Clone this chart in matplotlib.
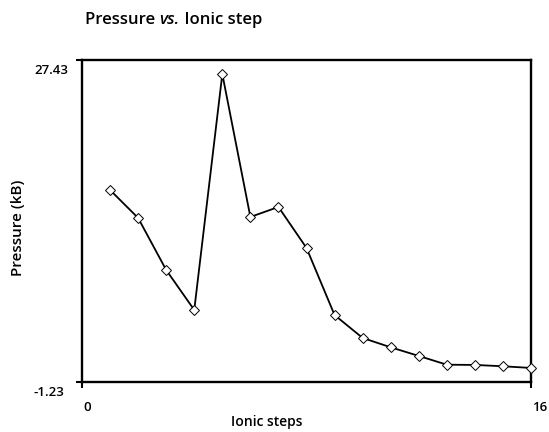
import numpy as np
import matplotlib.pyplot as plt

plt.rcParams['font.family'] = ['Open Sans', 'DejaVu Sans']

steps = [1, 2, 3, 4, 5, 6, 7, 8, 9, 10, 11, 12, 13, 14, 15, 16]
pressure = [15.86, 13.37, 8.74, 5.18, 26.18, 13.46, 14.35, 10.70,
            4.73, 2.69, 1.86, 1.09, 0.31, 0.29, 0.17, 0.02]

x_lim = [0, 16]
y_lim = [min(pressure) - 1.25, max(pressure) + 1.25]

W, H = 549, 432
fig = plt.figure(figsize=(W / 100, H / 100), dpi=100)
ax = fig.add_axes([82 / W, 1 - 382 / H, 449 / W, 322 / H])

ax.plot(steps, pressure, color='black', lw=1.3, marker='D', ms=5,
        mfc='white', mec='black', mew=0.7, clip_on=False, zorder=3)

ax.set_xlim(x_lim)
ax.set_ylim(y_lim)
ax.set_xticks(x_lim)
ax.set_yticks(y_lim)
ax.set_xticklabels([])
ax.set_yticklabels([])

for s in ax.spines.values():
    s.set_linewidth(1.7)
ax.tick_params(direction='out', length=4, width=1.5)

# end-of-axis value labels, placed beside the ticks
for v in x_lim:
    ax.annotate('%d' % v, xy=(v, 0), xycoords=('data', 'axes fraction'),
                xytext=(1.5, -19), textcoords='offset pixels',
                ha='left', va='top', fontsize=9.5, fontweight='semibold')
for v in y_lim:
    ax.annotate('%.2f' % v, xy=(0, v), xycoords=('axes fraction', 'data'),
                xytext=(-48, -4), textcoords='offset pixels',
                ha='left', va='top', fontsize=9.5, fontweight='semibold')

fig.text(267 / W, 1 - 426 / H, 'Ionic steps', fontsize=10,
         fontweight='semibold', ha='center', va='baseline')
fig.text(18 / W, 1 - 228 / H, 'Pressure (kB)', fontsize=11,
         fontweight='semibold', ha='center', va='center', rotation=90)

# title with italic "vs."
ty = 1 - 24 / H
t1 = fig.text(85 / W, ty, 'Pressure ', fontsize=12,
              fontweight='semibold', ha='left', va='baseline')
t2 = fig.text(0, ty, 'vs.', fontsize=12, fontweight='semibold',
              style='italic', ha='left', va='baseline')
t3 = fig.text(0, ty, ' Ionic step', fontsize=12, fontweight='semibold',
              ha='left', va='baseline')
fig.canvas.draw()
r = fig.canvas.get_renderer()
inv = fig.transFigure.inverted()
t2.set_x(inv.transform((t1.get_window_extent(r).x1, 0))[0])
t3.set_x(inv.transform((t2.get_window_extent(r).x1, 0))[0])

fig.savefig('out.png', dpi=100)
